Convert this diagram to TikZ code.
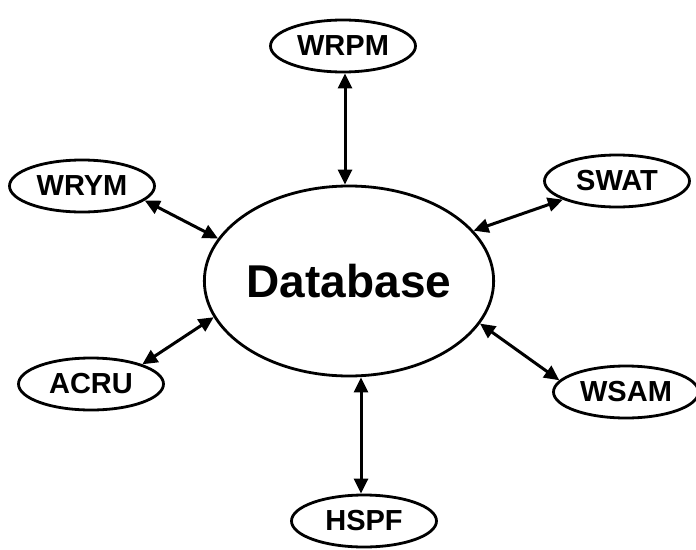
\documentclass[tikz,border=0pt]{standalone}
\usepackage{fontspec}
\setmainfont{Liberation Sans}
\usetikzlibrary{shapes.geometric,arrows.meta}
\tikzset{
  model/.style={ellipse, draw, line width=2.8pt, minimum width=145pt, minimum height=52pt,
    inner sep=0pt, font=\fontsize{29}{32}\selectfont\bfseries},
  hub/.style={ellipse, draw, line width=2.8pt, minimum width=284pt, minimum height=190pt,
    inner sep=0pt, font=\fontsize{46}{50}\selectfont\bfseries},
  link/.style={line width=3pt, {Triangle[length=15pt,width=14pt]}-{Triangle[length=15pt,width=14pt]}}
}
\begin{document}
\begin{tikzpicture}[x=1pt,y=-1pt]
\useasboundingbox (0,0) rectangle (696,549);
\node[hub] (db) at (349,281) {Database};
\node[model] (wrpm) at (343,46) {WRPM};
\node[model] (wrym) at (82,186) {WRYM};
\node[model] (swat) at (617,181) {SWAT};
\node[model] (acru) at (91,384) {ACRU};
\node[model] (wsam) at (626,392) {WSAM};
\node[model] (hspf) at (364,521) {HSPF};
% connectors between the hub and each model
\draw[link] ([xshift=2pt]wrpm.south) -- ([xshift=2pt]wrpm.south |- db.north);
\draw[link] ([xshift=-3pt]hspf.north) -- ([xshift=-3pt]hspf.north |- db.south);
\draw[link] (wrym.-13) -- (db.162);
\draw[link] (swat.199) -- (db.22);
\draw[link] (acru.21) -- (db.195);
\draw[link] (wsam.170) -- (db.342);
\end{tikzpicture}
\end{document}
